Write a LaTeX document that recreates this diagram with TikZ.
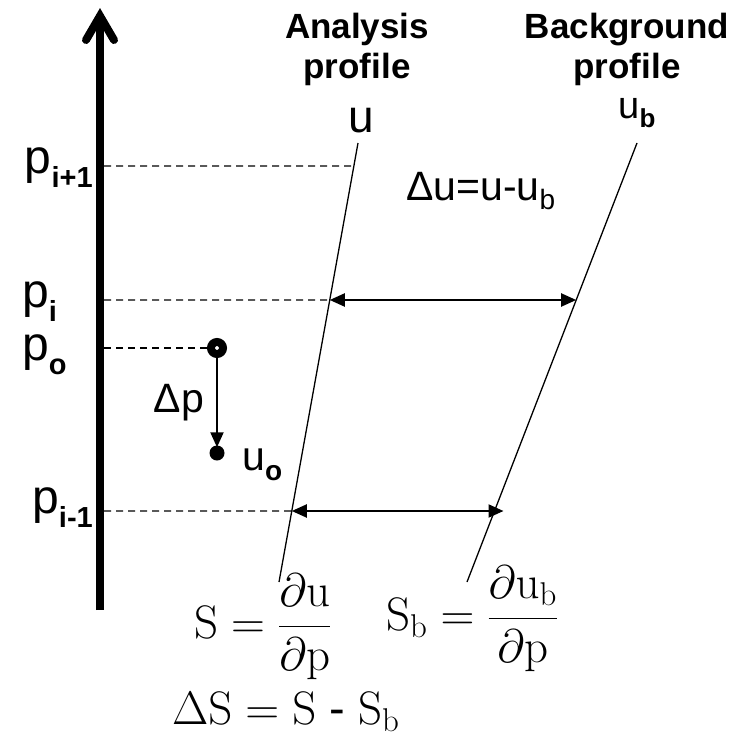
\RequirePackage{fix-cm}
\documentclass[tikz,border=0pt]{standalone}
\usepackage[no-math]{fontspec}
\setmainfont{Liberation Sans}
\usepackage{amsmath}
\usetikzlibrary{arrows.meta,calc}

\newcommand{\fs}[1]{\fontsize{#1}{#1}\selectfont}
\newcommand{\lowsub}[1]{\raisebox{-14pt}{\fs{29}\bfseries #1}}
\newcommand{\smallsub}[1]{\raisebox{-9pt}{\fs{28}#1}}

\tikzset{
	lbl/.style={inner sep=0pt, font=\fs{48}},
	ttl/.style={inner sep=0pt, anchor=base, font=\fs{35}\bfseries},
	sym/.style={inner sep=0pt, font=\fs{41}},
	eqn/.style={inner sep=0pt, anchor=base west, font=\fs{47}},
	lvl/.style={line width=1.2pt, dash pattern=on 7pt off 5pt},
	prof/.style={line width=1.3pt},
	dbl/.style={line width=2pt, {Triangle[length=15pt,width=13pt]}-{Triangle[length=15pt,width=13pt]}},
	dp/.style={line width=2pt, -{Triangle[length=15pt,width=13pt]}, shorten >=-2pt},
}

\begin{document}
\begin{tikzpicture}[x=1pt,y=-1pt]
	\useasboundingbox (0,0) rectangle (741,736);

	% pressure axis
	\coordinate (axbot) at (100,610);
	\coordinate (axtop) at (100,16);
	\draw[line width=8pt] (axbot) -- (axtop);
	\draw[line width=8pt, line cap=round, line join=miter] (86,40) -- (axtop) -- (114,40);

	% profiles
	\node[ttl] (ana1) at (357,38) {Analysis};
	\node[ttl] (ana2) at (357,78) {profile};
	\node[inner sep=0pt, anchor=base, font=\fs{46}] (ulab) at (361,132) {u};
	\node[ttl] (bg1) at (627,38) {Background};
	\node[ttl] (bg2) at (627,78) {profile};
	\node[inner sep=0pt, font=\fs{38}, anchor=base] (ublab) at (637,118) {u\raisebox{-9pt}{\fs{26}\bfseries b}};

	\coordinate (atop) at (358,143);
	\coordinate (abot) at (279,582);
	\coordinate (btop) at (637,143);
	\coordinate (bbot) at (467,582);
	\draw[prof] (atop) -- (abot);
	\draw[prof] (btop) -- (bbot);

	% levels
	\node[lbl, anchor=base east] (pip1) at (93,173) {p\lowsub{i+1}};
	\node[lbl, anchor=base west] (pi) at (22,307) {p\lowsub{i}};
	\node[lbl, anchor=base west] (po) at (22,360) {p\lowsub{o}};
	\node[lbl, anchor=base east] (pim1) at (93,513) {p\lowsub{i-1}};

	\coordinate (lv1) at (104,166);
	\coordinate (lv2) at (104,300);
	\coordinate (lv3) at (104,348);
	\coordinate (lv4) at (104,511);
	\coordinate (a1) at ($(atop)!{(166-143)/439}!(abot)$);
	\coordinate (a2) at ($(atop)!{(300-143)/439}!(abot)$);
	\coordinate (a4) at ($(atop)!{(511-143)/439}!(abot)$);
	\coordinate (b2) at ($(btop)!{(300-143)/439}!(bbot)$);
	\coordinate (b4) at ($(btop)!{(511-143)/439}!(bbot)+(9,0)$);

	\draw[lvl] (lv1) -- (a1);
	\draw[lvl] (lv2) -- (a2);
	\draw[lvl] (lv4) -- (a4);
	\draw[dbl] (a2) -- (b2);
	\draw[dbl] (a4) -- (b4);

	\node[sym, anchor=base west] (du) at (406,200) {Δu=u-u\smallsub{b}};

	% observation
	\node[circle, draw, line width=8pt, inner sep=0pt, minimum size=12pt] (obs) at (217,348) {};
	\node[circle, fill, inner sep=0pt, minimum size=15pt] (uo) at (217,453) {};
	\draw[lvl] (lv3) -- (obs.west);
	\draw[dp] (obs) -- (uo);
	\node[sym, anchor=base east] (dplab) at (204,412) {Δp};
	\node[sym, anchor=base west] (uolab) at (242,470) {u\raisebox{-10pt}{\fs{28}\bfseries o}};

	% slopes
	\node[eqn] (seq) at (194,638) {$\mathrm{S}=\dfrac{\partial\mathrm{u}}{\partial\mathrm{p}}$};
	\node[eqn] (sbeq) at (386,630) {$\mathrm{S}_{\mathrm{b}}=\dfrac{\partial\mathrm{u}_{\mathrm{b}}}{\partial\mathrm{p}}$};
	\node[eqn] (dseq) at (172,724) {$\Delta\mathrm{S}=\mathrm{S}\ \text{-}\ \mathrm{S}_{\mathrm{b}}$};
\end{tikzpicture}
\end{document}
